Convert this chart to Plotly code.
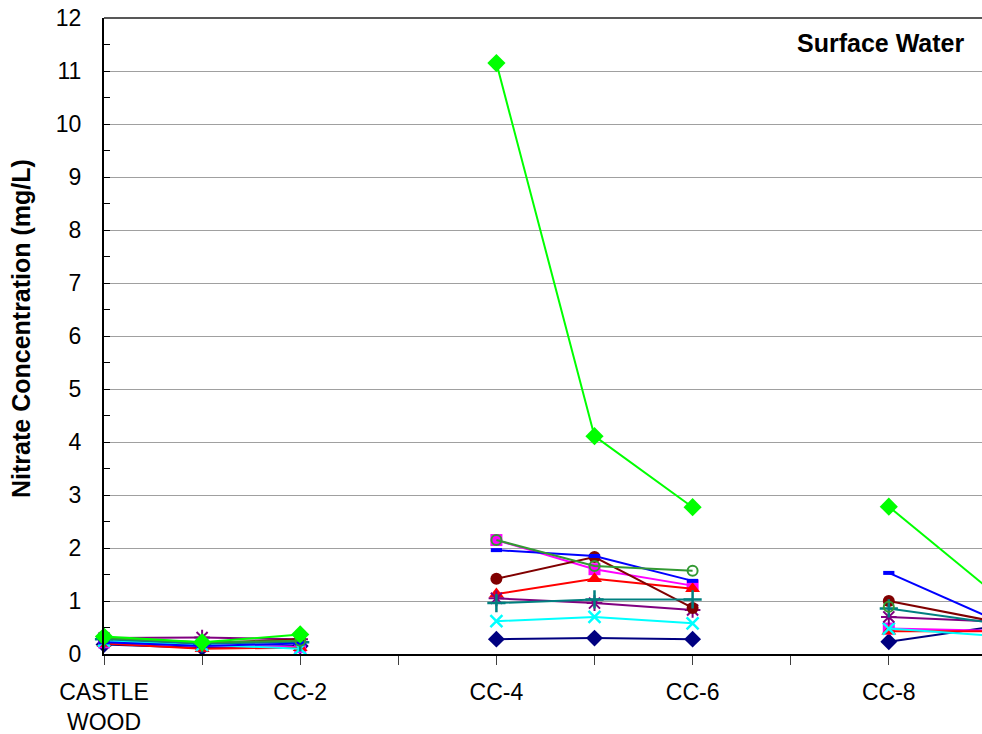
import plotly.graph_objects as go

categories = ["CASTLE<br>WOOD", "CC-1", "CC-2", "CC-3", "CC-4", "CC-5", "CC-6", "CC-7", "CC-8", "CC-9"]
tick_labels = ["CASTLE<br>WOOD", "", "CC-2", "", "CC-4", "", "CC-6", "", "CC-8", ""]

s_navy = [0.18, 0.12, 0.15, None, 0.28, 0.30, 0.28, None, 0.23, 0.50]
s_magenta = [0.22, 0.15, 0.13, None, 2.15, 1.60, 1.29, None, 0.48, 0.44]
s_red = [0.20, 0.10, 0.12, None, 1.13, 1.42, 1.23, None, 0.43, 0.43]
s_cyan = [0.25, 0.17, 0.10, None, 0.62, 0.70, 0.58, None, 0.48, 0.35]
s_purple = [0.30, 0.31, 0.28, None, 1.05, 0.96, 0.83, None, 0.70, 0.62]
s_maroon = [0.30, 0.20, 0.28, None, 1.42, 1.83, 0.87, None, 1.00, 0.64]
s_teal = [0.28, 0.20, 0.22, None, 0.96, 1.03, 1.03, None, 0.86, 0.60]
s_blue = [0.22, 0.15, 0.20, None, 1.96, 1.85, 1.38, None, 1.53, 0.71]
s_green_circle = [0.30, 0.22, 0.25, None, 2.15, 1.66, 1.57, None, 0.89, None]
s_green = [0.33, 0.22, 0.37, None, 11.15, 4.11, 2.77, None, 2.78, 1.26]

series = [
    ("Series 1", s_navy, "#000080", "diamond", 13, 0),
    ("Series 2", s_magenta, "#FF00FF", "square", 12, 0),
    ("Series 3", s_red, "#FF0000", "triangle-up", 13, 0),
    ("Series 4", s_cyan, "#00FFFF", "x-thin", 12, 2.5),
    ("Series 5", s_purple, "#800080", "asterisk", 13, 2),
    ("Series 6", s_maroon, "#800000", "circle", 12, 0),
    ("Series 7", s_teal, "#008080", "cross-thin", 13, 2.5),
    ("Series 8", s_blue, "#0000FF", "line-ew", 8, 4),
    ("Series 9", s_green_circle, "#339933", "circle-open", 10, 2),
    ("Series 10", s_green, "#00FF00", "diamond", 14, 0),
]

fig = go.Figure()
for name, vals, color, sym, size, lw in series:
    marker = dict(symbol=sym, size=size, color=color)
    marker["line"] = dict(width=lw, color=color)
    fig.add_trace(go.Scatter(
        x=categories, y=vals, name=name, mode="lines+markers",
        line=dict(color=color, width=2), marker=marker,
        connectgaps=False, cliponaxis=False, showlegend=False,
    ))

font_family = "Liberation Sans, Arial, sans-serif"

fig.update_layout(
    width=982, height=734,
    margin=dict(l=104, r=0, t=18, b=80),
    paper_bgcolor="white", plot_bgcolor="white",
    font=dict(family=font_family, size=23, color="black"),
    xaxis=dict(
        type="category", categoryorder="array", categoryarray=categories,
        range=[0, 8.95], automargin=False,
        tickmode="array", tickvals=categories, ticktext=tick_labels,
        ticks="outside", ticklen=9, tickcolor="#404040", tickwidth=1,
        showline=True, linecolor="black", linewidth=2,
        showgrid=False, zeroline=False,
        ticklabelstandoff=7,
        tickfont=dict(size=23),
    ),
    yaxis=dict(
        range=[0, 12], dtick=1, tick0=0, automargin=False,
        ticks="inside", ticklen=6, tickcolor="black", tickwidth=1,
        minor=dict(dtick=0.5, ticks="inside", ticklen=6, tickcolor="black", showgrid=False),
        showline=True, linecolor="black", linewidth=2,
        showgrid=True, gridcolor="#A0A0A0", gridwidth=1,
        zeroline=False,
        ticklabelstandoff=16,
        tickfont=dict(size=23),
    ),
    shapes=[dict(type="line", xref="paper", yref="paper", x0=0, x1=1, y0=1, y1=1,
                 line=dict(color="#202020", width=1.5))],
    annotations=[
        dict(
            text="<b>Surface Water</b>", xref="paper", yref="paper",
            x=(966 - 104) / 878, y=(654 - 43) / 636, xanchor="right", yanchor="middle",
            showarrow=False, font=dict(size=25, color="black"),
        ),
        dict(
            text="<b>Nitrate Concentration (mg/L)</b>", xref="paper", yref="paper",
            x=(21 - 104) / 878, y=(654 - 329) / 636, xanchor="center", yanchor="middle",
            textangle=-90, showarrow=False, font=dict(size=25, color="black"),
        ),
    ],
)

fig.write_html("out.html")
